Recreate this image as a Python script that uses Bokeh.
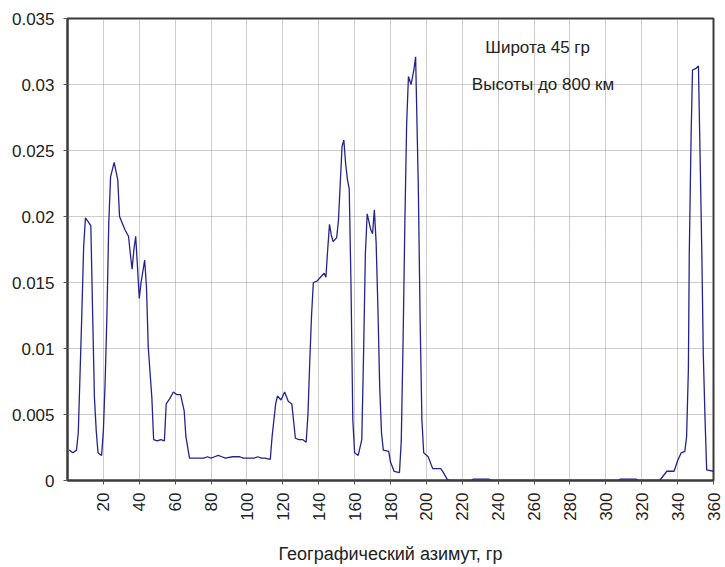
import math
from bokeh.plotting import figure
from bokeh.models import FixedTicker, Label
from bokeh.embed import file_html
from bokeh.resources import INLINE

# Geographic azimuth (degrees) and the corresponding value
azimuth = [
    1, 3, 5, 6, 7, 8, 9, 10, 13, 14, 15, 16, 17, 19,
    20, 21, 22, 23, 24, 26, 28, 29, 32, 34, 35, 36, 37, 38, 39, 40,
    41, 43, 44, 45, 47, 48, 50, 52, 54, 55, 57, 59, 61, 63, 65, 66, 68,
    72, 76, 78, 80, 82, 84, 86, 88, 92, 96, 98, 100, 104, 106, 108, 110, 113,
    114, 116, 117, 119, 121, 123, 125, 127, 129, 131, 133,
    134, 135, 136, 137, 139, 141, 143, 144, 145, 146, 147, 148, 150,
    151, 152, 153, 154, 155, 156, 157, 158, 159, 160, 162, 164,
    165, 166, 167, 169, 170, 171, 172, 173, 174, 175, 176, 179,
    180, 182, 185, 186, 187, 188, 189, 190, 191.5, 193, 194,
    194.5, 195.5, 196.5, 197.5, 198.5, 201, 203.5, 208, 209.5, 211.5, 213,
    225, 226, 235, 236, 307, 308, 317, 318, 330,
    334, 338, 340, 342, 344, 345, 346, 346.5, 347.5, 348.3, 350, 351.6,
    352.5, 353.5, 354.3, 355.3, 356.2, 360,
]
value = [
    0.0023, 0.0021, 0.0023, 0.0036, 0.0081, 0.0127, 0.0177, 0.0199, 0.0193, 0.0127, 0.0063, 0.0038, 0.0021, 0.0019,
    0.0038, 0.0076, 0.0127, 0.0195, 0.0230, 0.0241, 0.0228, 0.0200, 0.0190, 0.0185, 0.0172, 0.0160, 0.0175, 0.0185, 0.0162, 0.0138,
    0.0150, 0.0167, 0.0147, 0.0101, 0.0063, 0.0031, 0.0030, 0.0031, 0.0030, 0.0058, 0.0062, 0.0067, 0.0065, 0.0065, 0.0053, 0.0033, 0.0017,
    0.0017, 0.0017, 0.0018, 0.0017, 0.0018, 0.0019, 0.0018, 0.0017, 0.0018, 0.0018, 0.0017, 0.0017, 0.0017, 0.0018, 0.0017, 0.0017, 0.0016,
    0.0033, 0.0058, 0.0064, 0.0061, 0.0067, 0.0060, 0.0058, 0.0032, 0.0031, 0.0031, 0.0029,
    0.0050, 0.0090, 0.0125, 0.0150, 0.0151, 0.0154, 0.0157, 0.0154, 0.0175, 0.0194, 0.0186, 0.0181, 0.0184,
    0.0197, 0.0225, 0.0253, 0.0258, 0.0240, 0.0228, 0.0221, 0.0147, 0.0046, 0.0021, 0.0019, 0.0031,
    0.0096, 0.0172, 0.0202, 0.0190, 0.0187, 0.0205, 0.0180, 0.0130, 0.0070, 0.0036, 0.0023, 0.0022,
    0.0014, 0.0007, 0.0006, 0.0030, 0.0105, 0.0195, 0.0270, 0.0306, 0.0300, 0.0311, 0.0321,
    0.0288, 0.0223, 0.0122, 0.0046, 0.0021, 0.0018, 0.0009, 0.0009, 0.0006, 0.0001, 0.0,
    0.0, 0.0001, 0.0001, 0.0, 0.0, 0.0001, 0.0001, 0.0, 0.0,
    0.0007, 0.0007, 0.0015, 0.0021, 0.0022, 0.0033, 0.0084, 0.0172, 0.0260, 0.0311, 0.0312, 0.0314,
    0.0248, 0.0172, 0.0096, 0.0046, 0.0008, 0.0007,
]

x_ticks = [20, 40, 60, 80, 100, 120, 140, 160, 180, 200, 220, 240, 260, 280, 300, 320, 340, 360]
y_ticks = [0, 0.005, 0.01, 0.015, 0.02, 0.025, 0.03, 0.035]
y_tick_labels = ["0", "0.005", "0.01", "0.015", "0.02", "0.025", "0.03", "0.035"]

x_title = "Географический азимут, гр"
notes = ["Широта 45 гр", "Высоты до 800 км"]
note_x = [262, 265]
note_y = [0.0328, 0.0300]

FONT = "Liberation Sans"
TEXT = "#222222"

p = figure(
    width=725, height=567,
    x_range=(0, 360), y_range=(0, 0.035),
    min_border_left=67, min_border_right=12, min_border_top=18, min_border_bottom=87,
    output_backend="svg", toolbar_location=None,
)
p.background_fill_color = "white"
p.border_fill_color = "white"
p.outline_line_color = "#3a3a3a"
p.outline_line_width = 2

p.line(azimuth, value, line_color="#23238f", line_width=1.3)

# axes
p.xaxis.ticker = FixedTicker(ticks=x_ticks)
p.yaxis.ticker = FixedTicker(ticks=y_ticks)
p.yaxis.major_label_overrides = {t: s for t, s in zip(y_ticks, y_tick_labels)}
p.xaxis.major_label_orientation = math.pi / 2
for ax in (p.xaxis, p.yaxis):
    ax.axis_line_color = "#3a3a3a"
    ax.axis_line_width = 2
    ax.major_tick_in = 0
    ax.major_tick_out = 4
    ax.major_tick_line_color = "#555555"
    ax.minor_tick_line_color = None
    ax.major_label_text_font = FONT
    ax.major_label_text_font_size = "17px"
    ax.major_label_text_color = TEXT
p.yaxis.major_label_standoff = 9
p.xaxis.major_label_standoff = 8

p.xaxis.axis_label = x_title
p.xaxis.axis_label_text_font = FONT
p.xaxis.axis_label_text_font_size = "18px"
p.xaxis.axis_label_text_font_style = "normal"
p.xaxis.axis_label_text_color = TEXT
p.xaxis.axis_label_standoff = 20

# dotted grid
for g in (p.xgrid, p.ygrid):
    g.grid_line_color = "#9a9a9a"
    g.grid_line_dash = "1 1"
    g.grid_line_width = 1

for t, nx, ny in zip(notes, note_x, note_y):
    p.add_layout(Label(
        x=nx, y=ny, text=t, text_align="center", text_baseline="middle",
        text_font=FONT, text_font_size="17px", text_color=TEXT,
    ))

open("out.html", "w").write(file_html(p, INLINE))
